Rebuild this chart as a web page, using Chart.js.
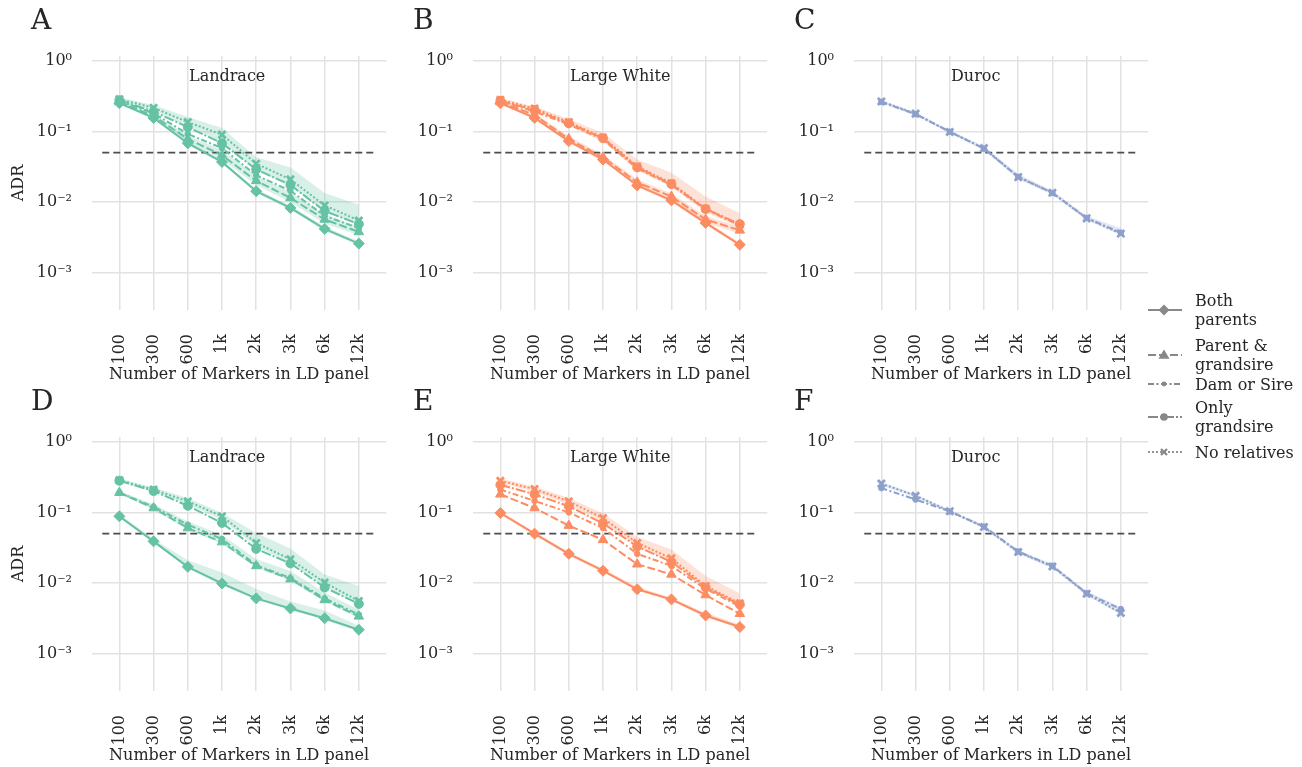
<!DOCTYPE html>
<html>
<head>
<meta charset="utf-8">
<script src="https://cdn.jsdelivr.net/npm/chart.js@4.4.1/dist/chart.umd.min.js"></script>
<style>
  body { margin: 0; background: #fff; width: 1302px; height: 767px; overflow: hidden;
         font-family: "DejaVu Serif", serif; color: #262626; }
  canvas.panel { position: absolute; }
  .letter { position: absolute; font-size: 28px; line-height: 28px; }
  .leg-text { position: absolute; left: 1195px; font-size: 16px; line-height: 19px; white-space: nowrap; }
  .leg-icon { position: absolute; left: 1146px; }
</style>
</head>
<body>
<div id="page"></div>
<script>
// x categories and y ticks
const markerLabels = ["100", "300", "600", "1k", "2k", "3k", "6k", "12k"];
const yTickValues = [1, 0.1, 0.01, 0.001];
const yTickLabels = ["10⁰", "10⁻¹", "10⁻²", "10⁻³"];
const relatives = ["Both parents", "Parent & grandsire", "Dam or Sire", "Only grandsire", "No relatives"];
const threshold = 0.05;
const thresholdSpan = [-0.5, 7.5];

// A - Landrace (top)
const aBoth = [0.25, 0.155, 0.068, 0.037, 0.0143, 0.0083, 0.0042, 0.0026];
const aParentGs = [0.26, 0.165, 0.078, 0.046, 0.020, 0.0115, 0.0057, 0.0038];
const aDamSire = [0.27, 0.18, 0.092, 0.058, 0.024, 0.0145, 0.0064, 0.0043];
const aOnlyGs = [0.275, 0.19, 0.115, 0.068, 0.029, 0.0175, 0.0075, 0.0049];
const aNone = [0.285, 0.215, 0.135, 0.09, 0.035, 0.021, 0.0090, 0.0055];
const aNoneHi = [0.30, 0.235, 0.16, 0.112, 0.043, 0.031, 0.0135, 0.0092];
const aNoneLo = [0.27, 0.195, 0.115, 0.072, 0.028, 0.017, 0.0074, 0.0048];
const aParentGsHi = [0.27, 0.175, 0.088, 0.054, 0.024, 0.0138, 0.0068, 0.0045];
const aParentGsLo = [0.25, 0.155, 0.070, 0.040, 0.0175, 0.0100, 0.0050, 0.0034];
const aBothHi = [0.26, 0.162, 0.072, 0.039, 0.0152, 0.0089, 0.0045, 0.0028];
const aBothLo = [0.24, 0.148, 0.064, 0.035, 0.0135, 0.0078, 0.0039, 0.0025];

// B - Large White (top)
const bBoth = [0.25, 0.155, 0.073, 0.040, 0.0172, 0.0106, 0.0051, 0.0025];
const bParentGs = [0.26, 0.17, 0.078, 0.043, 0.019, 0.0120, 0.0057, 0.0040];
const bDamSire = [0.27, 0.19, 0.125, 0.077, 0.030, 0.0175, 0.0079, 0.0047];
const bOnlyGs = [0.27, 0.20, 0.13, 0.080, 0.031, 0.018, 0.0080, 0.0049];
const bNone = [0.28, 0.21, 0.135, 0.082, 0.032, 0.0185, 0.0081, 0.0048];
const bNoneHi = [0.295, 0.225, 0.15, 0.095, 0.040, 0.026, 0.012, 0.0070];
const bNoneLo = [0.265, 0.195, 0.12, 0.072, 0.028, 0.0165, 0.0072, 0.0044];
const bParentGsHi = [0.27, 0.18, 0.085, 0.047, 0.021, 0.0133, 0.0064, 0.0045];
const bParentGsLo = [0.25, 0.16, 0.072, 0.039, 0.0172, 0.0108, 0.0051, 0.0036];
const bBothHi = [0.26, 0.163, 0.077, 0.042, 0.0181, 0.0112, 0.0054, 0.0027];
const bBothLo = [0.24, 0.148, 0.069, 0.038, 0.0164, 0.0100, 0.0048, 0.0024];

// C - Duroc (top)
const cDamSire = [0.26, 0.175, 0.099, 0.057, 0.0228, 0.0135, 0.0060, 0.0037];
const cNone = [0.265, 0.178, 0.098, 0.058, 0.0226, 0.0136, 0.0059, 0.0036];
const cNoneHi = [0.275, 0.185, 0.104, 0.061, 0.025, 0.0145, 0.0064, 0.0043];
const cNoneLo = [0.25, 0.168, 0.094, 0.054, 0.021, 0.0127, 0.0056, 0.0034];

// D - Landrace (bottom)
const dBoth = [0.088, 0.039, 0.017, 0.0099, 0.0061, 0.0044, 0.0032, 0.0022];
const dParentGs = [0.19, 0.115, 0.060, 0.038, 0.0175, 0.0114, 0.0058, 0.0034];
const dDamSire = [0.19, 0.12, 0.067, 0.042, 0.018, 0.0118, 0.0061, 0.0036];
const dOnlyGs = [0.28, 0.20, 0.124, 0.071, 0.0305, 0.019, 0.0087, 0.0051];
const dNone = [0.285, 0.21, 0.143, 0.088, 0.037, 0.0217, 0.0102, 0.0056];
const dNoneHi = [0.30, 0.225, 0.16, 0.098, 0.051, 0.031, 0.0133, 0.0091];
const dNoneLo = [0.27, 0.195, 0.13, 0.078, 0.033, 0.019, 0.0090, 0.0050];
const dParentGsHi = [0.20, 0.13, 0.075, 0.048, 0.022, 0.0148, 0.0074, 0.0042];
const dParentGsLo = [0.18, 0.11, 0.057, 0.036, 0.0165, 0.0108, 0.0055, 0.0032];
const dBothHi = [0.094, 0.042, 0.021, 0.0141, 0.0083, 0.0055, 0.0041, 0.0025];
const dBothLo = [0.083, 0.037, 0.0161, 0.0094, 0.0058, 0.0042, 0.0030, 0.0021];

// E - Large White (bottom)
const eBoth = [0.098, 0.050, 0.026, 0.0150, 0.0082, 0.0059, 0.0035, 0.0024];
const eParentGs = [0.18, 0.115, 0.065, 0.041, 0.0185, 0.0133, 0.0068, 0.0037];
const eDamSire = [0.21, 0.145, 0.10, 0.060, 0.026, 0.0175, 0.0083, 0.0047];
const eOnlyGs = [0.245, 0.18, 0.122, 0.070, 0.033, 0.020, 0.0087, 0.0050];
const eNone = [0.28, 0.213, 0.143, 0.083, 0.037, 0.0224, 0.0091, 0.0052];
const eNoneHi = [0.30, 0.23, 0.16, 0.097, 0.045, 0.030, 0.0126, 0.0072];
const eNoneLo = [0.26, 0.195, 0.128, 0.074, 0.033, 0.020, 0.0083, 0.0047];
const eBothHi = [0.104, 0.053, 0.0275, 0.016, 0.0088, 0.0063, 0.0038, 0.0026];
const eBothLo = [0.093, 0.047, 0.0245, 0.0142, 0.0078, 0.0056, 0.0033, 0.0023];

// F - Duroc (bottom)
const fDamSire = [0.22, 0.152, 0.103, 0.063, 0.028, 0.0176, 0.0072, 0.0043];
const fNone = [0.255, 0.172, 0.104, 0.062, 0.0275, 0.0172, 0.0071, 0.0038];
const fNoneHi = [0.27, 0.18, 0.109, 0.066, 0.0295, 0.0185, 0.0077, 0.0046];
const fNoneLo = [0.24, 0.163, 0.099, 0.059, 0.026, 0.0163, 0.0067, 0.0036];

const teal = [102, 194, 165], orange = [252, 141, 98], blue = [141, 160, 203];

const panels = [
  { letter: "A", breed: "Landrace", rgb: teal, left: 0, top: 0, yTitle: true,
    series: [[0, aBoth], [1, aParentGs], [2, aDamSire], [3, aOnlyGs], [4, aNone]],
    bands: [[aNoneHi, aNoneLo], [aParentGsHi, aParentGsLo], [aBothHi, aBothLo]] },
  { letter: "B", breed: "Large White", rgb: orange, left: 381, top: 0, yTitle: false,
    series: [[0, bBoth], [1, bParentGs], [2, bDamSire], [3, bOnlyGs], [4, bNone]],
    bands: [[bNoneHi, bNoneLo], [bParentGsHi, bParentGsLo], [bBothHi, bBothLo]] },
  { letter: "C", breed: "Duroc", rgb: blue, left: 762, top: 0, yTitle: false,
    series: [[2, cDamSire], [4, cNone]],
    bands: [[cNoneHi, cNoneLo]] },
  { letter: "D", breed: "Landrace", rgb: teal, left: 0, top: 381, yTitle: true,
    series: [[0, dBoth], [1, dParentGs], [2, dDamSire], [3, dOnlyGs], [4, dNone]],
    bands: [[dNoneHi, dNoneLo], [dParentGsHi, dParentGsLo], [dBothHi, dBothLo]] },
  { letter: "E", breed: "Large White", rgb: orange, left: 381, top: 381, yTitle: false,
    series: [[0, eBoth], [1, eParentGs], [2, eDamSire], [3, eOnlyGs], [4, eNone]],
    bands: [[eNoneHi, eNoneLo], [eBothHi, eBothLo]] },
  { letter: "F", breed: "Duroc", rgb: blue, left: 762, top: 381, yTitle: false,
    series: [[2, fDamSire], [4, fNone]],
    bands: [[fNoneHi, fNoneLo]] }
];

// line / marker style for each relative group
const groupStyle = [
  { dash: [], point: "rectRot", radius: 5.5, bw: 1 },
  { dash: [8, 3], point: "triangle", radius: 5.5, bw: 1 },
  { dash: [6, 2.5, 2, 2.5], point: "circle", radius: 2.8, bw: 1 },
  { dash: [10, 2, 2, 2], point: "circle", radius: 4.5, bw: 1 },
  { dash: [2, 2], point: "crossRot", radius: 5, bw: 2.8 }
];

Chart.defaults.font.family = "'DejaVu Serif'";
Chart.defaults.color = "#262626";

const breedTitle = {
  id: "breedTitle",
  afterDatasetsDraw(chart, args, opts) {
    const { ctx, chartArea } = chart;
    ctx.save();
    ctx.font = "16px 'DejaVu Serif'";
    ctx.fillStyle = "#262626";
    ctx.textBaseline = "middle";
    ctx.fillText(opts.text, chartArea.left + 97, chartArea.top + 21);
    ctx.restore();
  }
};

const toPoints = vals => vals.map((v, i) => ({ x: i, y: v }));
const rgba = (c, a) => `rgba(${c[0]},${c[1]},${c[2]},${a})`;

const page = document.getElementById("page");

panels.forEach(p => {
  const cv = document.createElement("canvas");
  cv.className = "panel";
  cv.width = 394; cv.height = 390;
  cv.style.left = p.left + "px"; cv.style.top = p.top + "px";
  cv.style.width = "394px"; cv.style.height = "390px";
  page.appendChild(cv);

  const letter = document.createElement("div");
  letter.className = "letter";
  letter.textContent = p.letter;
  letter.style.left = (p.left + 31 + (p.left > 0 ? 1 : 0)) + "px";
  letter.style.top = (p.top + 6) + "px";
  page.appendChild(letter);

  const datasets = [];
  p.bands.forEach(b => {
    datasets.push({ data: toPoints(b[0]), borderWidth: 0, pointRadius: 0, fill: "+1",
                    backgroundColor: rgba(p.rgb, 0.25), order: 5 });
    datasets.push({ data: toPoints(b[1]), borderWidth: 0, pointRadius: 0, fill: false, order: 5 });
  });
  datasets.push({
    data: thresholdSpan.map(x => ({ x: x, y: threshold })),
    borderColor: "#4d4d4d", borderWidth: 1.8, borderDash: [7, 4], pointRadius: 0, order: 3
  });
  p.series.forEach(([g, vals]) => {
    const st = groupStyle[g];
    datasets.push({
      label: relatives[g],
      data: toPoints(vals),
      borderColor: rgba(p.rgb, 1),
      backgroundColor: rgba(p.rgb, 1),
      borderWidth: 2,
      borderDash: st.dash,
      pointStyle: st.point,
      pointRadius: st.radius,
      pointBorderWidth: st.bw,
      fill: false,
      order: 1
    });
  });

  new Chart(cv.getContext("2d"), {
    type: "line",
    data: { datasets: datasets },
    plugins: [breedTitle],
    options: {
      responsive: false,
      animation: false,
      devicePixelRatio: 1,
      layout: { padding: { top: 56, right: 3, left: 0, bottom: 0 } },
      plugins: { legend: { display: false }, tooltip: { enabled: false }, breedTitle: { text: p.breed } },
      scales: {
        x: {
          type: "linear", min: -0.8, max: 7.8,
          afterBuildTicks: ax => { ax.ticks = markerLabels.map((_, i) => ({ value: i })); },
          afterFit: ax => { ax.height = 80; ax.paddingLeft = 0; ax.paddingRight = 0; },
          ticks: { callback: (v, i) => markerLabels[i], minRotation: 90, maxRotation: 90,
                   autoSkip: false, padding: 24, font: { size: 16 } },
          grid: { color: "#e2e2e2", lineWidth: 1.5, drawTicks: false },
          border: { display: false },
          title: { display: true, text: "Number of Markers in LD panel", font: { size: 16 },
                   padding: { top: 0, bottom: 5.4 } }
        },
        y: {
          type: "logarithmic", min: 3.2e-4, max: 1.16,
          afterBuildTicks: ax => { ax.ticks = yTickValues.map(v => ({ value: v })); },
          afterFit: ax => { ax.width = 92; ax.paddingTop = 0; ax.paddingBottom = 0; },
          ticks: { callback: (v, i) => yTickLabels[i], padding: 20, font: { size: 16 } },
          grid: { color: "#e2e2e2", lineWidth: 1.5, drawTicks: false },
          border: { display: false },
          title: { display: p.yTitle, text: "ADR", font: { size: 16 }, padding: { top: 8.9, bottom: 0 } }
        }
      }
    }
  });
});

// legend
const legendRows = [
  { g: 0, y: 310, lines: ["Both", "parents"] },
  { g: 1, y: 355, lines: ["Parent &", "grandsire"] },
  { g: 2, y: 384, lines: ["Dam or Sire"] },
  { g: 3, y: 417, lines: ["Only", "grandsire"] },
  { g: 4, y: 452, lines: ["No relatives"] }
];

legendRows.forEach(r => {
  const c = document.createElement("canvas");
  c.className = "leg-icon";
  c.width = 38; c.height = 14;
  c.style.top = (r.y - 7) + "px";
  page.appendChild(c);
  const ctx = c.getContext("2d");
  const st = groupStyle[r.g];
  ctx.strokeStyle = "#888"; ctx.fillStyle = "#888"; ctx.lineWidth = 1.8;
  ctx.setLineDash(st.dash);
  ctx.beginPath(); ctx.moveTo(2, 7); ctx.lineTo(36, 7); ctx.stroke();
  ctx.setLineDash([]);
  const cx = 18, cy = 7, s = st.radius;
  ctx.beginPath();
  if (st.point === "rectRot") {
    ctx.moveTo(cx, cy - s); ctx.lineTo(cx + s, cy); ctx.lineTo(cx, cy + s); ctx.lineTo(cx - s, cy); ctx.closePath(); ctx.fill();
  } else if (st.point === "triangle") {
    ctx.moveTo(cx, cy - s); ctx.lineTo(cx + s, cy + s * 0.7); ctx.lineTo(cx - s, cy + s * 0.7); ctx.closePath(); ctx.fill();
  } else if (st.point === "circle") {
    ctx.arc(cx, cy, s * 0.85, 0, Math.PI * 2); ctx.fill();
  } else {
    ctx.lineWidth = 2.2;
    ctx.moveTo(cx - s * 0.6, cy - s * 0.6); ctx.lineTo(cx + s * 0.6, cy + s * 0.6);
    ctx.moveTo(cx + s * 0.6, cy - s * 0.6); ctx.lineTo(cx - s * 0.6, cy + s * 0.6); ctx.stroke();
  }
  const t = document.createElement("div");
  t.className = "leg-text";
  t.style.top = (r.y - r.lines.length * 9.5) + "px";
  t.innerHTML = r.lines.join("<br>");
  page.appendChild(t);
});
</script>
</body>
</html>
